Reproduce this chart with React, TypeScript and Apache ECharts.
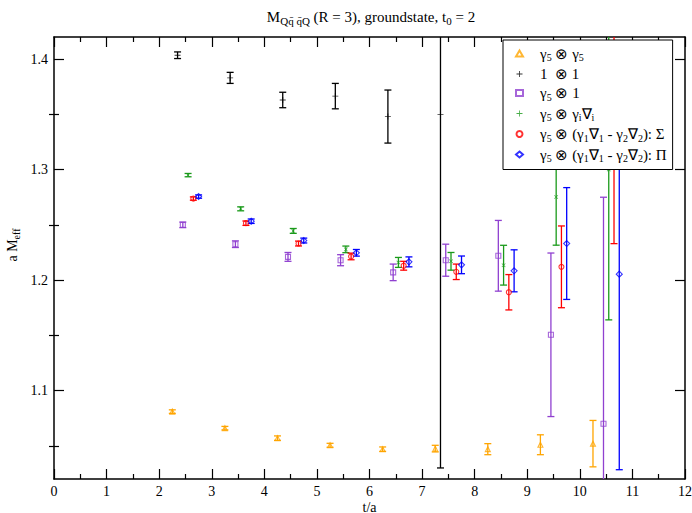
import React, { useEffect, useRef } from 'react';
import * as echarts from 'echarts';

// ---- data (t/a positions as plotted, effective masses, errors) ----
const names = ['g5g5', 'oneone', 'g5one', 'g5gidi', 'sigma', 'pi'];
const legendLabels = [
  '{n|γ}{s|5}{n| ⊗ γ}{s|5}',
  '{n|1  ⊗ 1}',
  '{n|γ}{s|5}{n| ⊗ 1}',
  '{n|γ}{s|5}{n| ⊗ γ}{s|i}{n|∇}{s|i}',
  '{n|γ}{s|5}{n| ⊗ (γ}{s|1}{n|∇}{s|1}{n| - γ}{s|2}{n|∇}{s|2}{n|): Σ}',
  '{n|γ}{s|5}{n| ⊗ (γ}{s|1}{n|∇}{s|1}{n| - γ}{s|2}{n|∇}{s|2}{n|): Π}',
];
const colors = ['#ffa500', '#000000', '#9040d0', '#1a9a1a', '#ff0000', '#0000ff'];

const xG5G5 = [2.25, 3.25, 4.25, 5.25, 6.25, 7.25, 8.25, 9.25, 10.25];
const yG5G5 = [1.081, 1.066, 1.057, 1.0505, 1.047, 1.0475, 1.047, 1.051, 1.052];
const eG5G5 = [0.0016, 0.0016, 0.002, 0.0018, 0.002, 0.003, 0.005, 0.009, 0.021];

const xOneOne = [2.35, 3.35, 4.35, 5.35, 6.35, 7.35];
const yOneOne = [1.4035, 1.383, 1.363, 1.3665, 1.348, 1.35];
const eOneOne = [0.003, 0.005, 0.007, 0.0115, 0.024, 0.32];

const xG5One = [2.45, 3.45, 4.45, 5.45, 6.45, 7.45, 8.45, 9.45, 10.45];
const yG5One = [1.25, 1.2325, 1.221, 1.218, 1.207, 1.218, 1.222, 1.1505, 1.07];
const eG5One = [0.0025, 0.003, 0.004, 0.005, 0.0075, 0.0145, 0.032, 0.074, 0.205];

const xG5GiDi = [2.55, 3.55, 4.55, 5.55, 6.55, 7.55, 8.55, 9.55, 10.55];
const yG5GiDi = [1.295, 1.2645, 1.2445, 1.2278, 1.216, 1.217, 1.2135, 1.2752, 1.3];
const eG5GiDi = [0.0015, 0.0018, 0.0022, 0.003, 0.0045, 0.008, 0.018, 0.0436, 0.136];

const xSigma = [2.65, 3.65, 4.65, 5.65, 6.65, 7.65, 8.65, 9.65, 10.65];
const ySigma = [1.2738, 1.2515, 1.2331, 1.2214, 1.213, 1.2075, 1.189, 1.212, 1.33];
const eSigma = [0.0015, 0.002, 0.0022, 0.003, 0.004, 0.007, 0.016, 0.037, 0.097];

const xPi = [2.75, 3.75, 4.75, 5.75, 6.75, 7.75, 8.75, 9.75, 10.75];
const yPi = [1.2756, 1.2533, 1.2358, 1.2247, 1.2165, 1.2138, 1.2084, 1.2331, 1.2054];
const ePi = [0.0015, 0.002, 0.0022, 0.003, 0.0045, 0.008, 0.019, 0.0506, 0.177];

const xTicks = [0, 12];
const yMajorTicks = [1.1, 1.2, 1.3, 1.4];
const yMinorTicks = [1.05, 1.15, 1.25, 1.35];
const yRange = [1.02, 1.42];

const allX = [xG5G5, xOneOne, xG5One, xG5GiDi, xSigma, xPi];
const allY = [yG5G5, yOneOne, yG5One, yG5GiDi, ySigma, yPi];
const allE = [eG5G5, eOneOne, eG5One, eG5GiDi, eSigma, ePi];

const PLUS = 'path://M4.3,0L5.7,0L5.7,4.3L10,4.3L10,5.7L5.7,5.7L5.7,10L4.3,10L4.3,5.7L0,5.7L0,4.3L4.3,4.3Z';
const symbols = ['triangle', PLUS, 'rect', PLUS, 'circle', 'diamond'];
const symbolSizes = [5, 6, 5, 5, 5, 6];
const symbolRotates = [0, 0, 0, 45, 0, 0];
const hollow = [true, false, true, false, true, true];

const FONT = "'Liberation Serif', 'Times New Roman', Times, serif";

export default function App() {
  const ref = useRef<HTMLDivElement>(null);
  useEffect(() => {
    if (!ref.current) return;
    const chart = echarts.init(ref.current, undefined, { renderer: 'svg' });
    const series: any[] = [];
    names.forEach((nm, i) => {
      const data = allX[i].map((x, k) => [x, allY[i][k], allE[i][k]]);
      const c = colors[i];
      series.push({
        name: nm + '_err',
        type: 'custom',
        xAxisIndex: 0,
        yAxisIndex: 0,
        clip: true,
        silent: true,
        z: 3,
        data,
        encode: { x: 0, y: 1 },
        renderItem: (params: any, api: any) => {
          const x = api.value(0);
          const y = api.value(1);
          const e = api.value(2);
          const t = api.coord([x, y + e]);
          const b = api.coord([x, y - e]);
          const w = 3.5;
          const st = { stroke: c, lineWidth: 1.3, fill: 'none' };
          return {
            type: 'group',
            children: [
              { type: 'line', shape: { x1: t[0], y1: t[1], x2: b[0], y2: b[1] }, style: st },
              { type: 'line', shape: { x1: t[0] - w, y1: t[1], x2: t[0] + w, y2: t[1] }, style: st },
              { type: 'line', shape: { x1: b[0] - w, y1: b[1], x2: b[0] + w, y2: b[1] }, style: st },
            ],
          };
        },
      });
      series.push({
        name: nm,
        type: 'scatter',
        xAxisIndex: 0,
        yAxisIndex: 0,
        z: 4,
        clip: true,
        symbol: symbols[i],
        symbolSize: symbolSizes[i],
        symbolRotate: symbolRotates[i],
        itemStyle: hollow[i]
          ? { color: 'rgba(255,255,255,0)', borderColor: c, borderWidth: 1.1 }
          : { color: c, borderWidth: 0 },
        data: allX[i].map((x, k) => [x, allY[i][k]]),
      });
    });

    const axisLineStyle = { color: '#000', width: 1.5 };
    const baseX = {
      type: 'value',
      min: xTicks[0],
      max: xTicks[1],
      interval: 1,
      splitLine: { show: false },
      axisLine: { show: true, onZero: false, lineStyle: axisLineStyle },
      axisTick: { show: true, inside: true, length: 10, lineStyle: { color: '#000', width: 1.2 } },
      minorTick: { show: true, splitNumber: 2, length: 5, lineStyle: { color: '#000', width: 1.2 } },
    };
    const baseY = {
      type: 'value',
      min: yRange[0],
      max: yRange[1],
      splitLine: { show: false },
    };
    const richM = { fontFamily: FONT, fontSize: 14, color: '#000', fontWeight: 'normal', verticalAlign: 'middle', lineHeight: 18 };
    const richS = { fontFamily: FONT, fontSize: 10, color: '#000', fontWeight: 'normal', verticalAlign: 'bottom', lineHeight: 10 };

    chart.setOption({
      animation: false,
      backgroundColor: '#fff',
      textStyle: { fontFamily: FONT },
      title: {
        text: '{m|M}{s|Qq\u0304 q\u0304Q}{m| (R = 3), groundstate, t}{s|0}{m| = 2}',
        left: 366,
        top: 3,
        textAlign: 'center',
        textStyle: {
          fontFamily: FONT,
          fontWeight: 'normal',
          rich: { m: { ...richM, fontSize: 15 }, s: { ...richS, fontSize: 11 } },
        },
      },
      legend: {
        orient: 'vertical',
        left: 503,
        top: 40,
        z: 20,
        backgroundColor: '#fff',
        borderColor: '#000',
        borderWidth: 1,
        padding: [6, 6, 6, 12],
        itemGap: 4,
        itemWidth: 7,
        itemHeight: 6,
        selectedMode: false,
        data: names,
        formatter: (name: string) => legendLabels[names.indexOf(name)],
        textStyle: {
          fontFamily: FONT,
          padding: [0, 0, 0, 12],
          rich: {
            n: { ...richM, fontSize: 15 },
            s: { ...richS, fontSize: 10 },
          },
        },
      },
      grid: { left: 54, right: 7, top: 37, bottom: 34, containLabel: false, outerBoundsMode: 'none' },
      xAxis: [
        {
          ...baseX,
          position: 'bottom',
          name: 't/a',
          nameLocation: 'middle',
          nameGap: 21,
          nameMoveOverlap: false,
          nameTextStyle: { fontFamily: FONT, fontSize: 14, color: '#000' },
          axisLabel: { show: true, margin: 5, fontFamily: FONT, fontSize: 14, color: '#000' },
        },
        { ...baseX, position: 'top', axisLabel: { show: false } },
      ],
      yAxis: [
        {
          ...baseY,
          position: 'left',
          name: '{m|a M}{s|eff}',
          nameLocation: 'middle',
          nameGap: 33,
          nameRotate: 90,
          nameMoveOverlap: false,
          nameTextStyle: { fontFamily: FONT, padding: [0, 0, 0, 26], rich: { m: richM, s: richS } },
          axisLine: { show: true, onZero: false, lineStyle: axisLineStyle },
          axisTick: { show: true, inside: true, length: 10, customValues: yMajorTicks, lineStyle: { color: '#000', width: 1.2 } },
          axisLabel: {
            show: true,
            margin: 6,
            customValues: yMajorTicks,
            formatter: (v: number) => v.toFixed(1),
            fontFamily: FONT,
            fontSize: 14,
            color: '#000',
          },
        },
        {
          ...baseY,
          position: 'left',
          axisLine: { show: false },
          axisTick: { show: true, inside: true, length: 5, customValues: yMinorTicks, lineStyle: { color: '#000', width: 1.2 } },
          axisLabel: { show: false },
        },
        {
          ...baseY,
          position: 'right',
          axisLine: { show: true, onZero: false, lineStyle: axisLineStyle },
          axisTick: { show: true, inside: true, length: 10, customValues: yMajorTicks, lineStyle: { color: '#000', width: 1.2 } },
          axisLabel: { show: false },
        },
        {
          ...baseY,
          position: 'right',
          axisLine: { show: false },
          axisTick: { show: true, inside: true, length: 5, customValues: yMinorTicks, lineStyle: { color: '#000', width: 1.2 } },
          axisLabel: { show: false },
        },
      ],
      series,
    });
    return () => chart.dispose();
  }, []);
  return (
    <div
      ref={ref}
      style={{ position: 'fixed', left: 0, top: 0, width: 692, height: 513, background: '#fff' }}
    />
  );
}
